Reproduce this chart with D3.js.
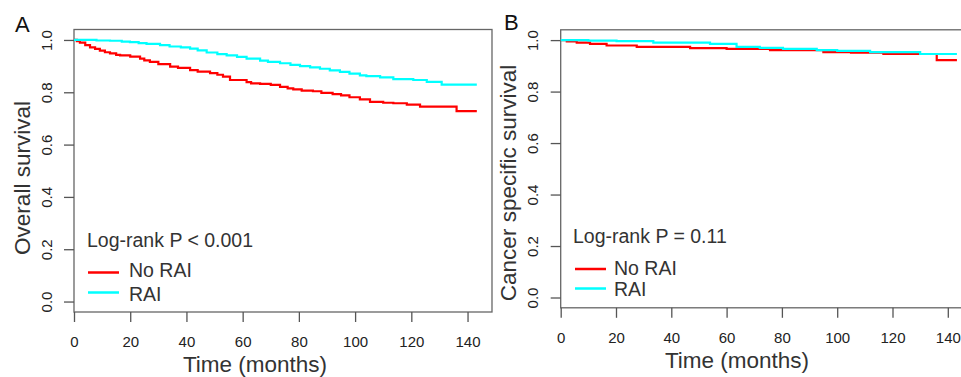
<!DOCTYPE html>
<html>
<head>
<meta charset="utf-8">
<script src="https://cdn.jsdelivr.net/npm/d3@7"></script>
<style>
  body { margin: 0; background: #fff; }
  svg { display: block; font-family: "Liberation Sans", Arial, sans-serif; }
</style>
</head>
<body>
<svg width="961" height="377"></svg>
<script>
// Kaplan-Meier step points (time in months, survival)
const osNoRaiTime = [0, 1, 2.1, 4, 5.7, 7.5, 9.2, 11, 12.8, 15, 16.4, 20, 23.5, 25, 27, 30, 34.2, 37, 41.3, 44, 48.4, 51, 53, 55.5, 61.4, 63, 66.2, 70, 73.3, 76, 78, 81, 85, 88, 92, 95, 98, 101.7, 105.3, 110, 113.6, 118.4, 123.1, 136.1, 143.3];
const osNoRaiSurv = [1.0, 0.995, 0.99, 0.98, 0.972, 0.966, 0.959, 0.953, 0.949, 0.943, 0.941, 0.936, 0.929, 0.922, 0.916, 0.908, 0.898, 0.893, 0.885, 0.879, 0.873, 0.867, 0.86, 0.847, 0.839, 0.834, 0.832, 0.828, 0.821, 0.815, 0.811, 0.806, 0.804, 0.798, 0.793, 0.788, 0.781, 0.773, 0.763, 0.76, 0.758, 0.753, 0.745, 0.728, 0.728];

const osRaiTime = [0, 8, 12.8, 17, 19.9, 23, 25.8, 30.6, 34, 38, 41.3, 44, 47.2, 51, 54.3, 58, 61.4, 66.2, 69, 73.3, 77, 80.4, 84, 87.5, 91, 94.6, 98, 101.7, 104, 108.9, 113.6, 120.7, 125.5, 130.8, 143.3];
const osRaiSurv = [1.0, 0.998, 0.997, 0.994, 0.992, 0.988, 0.985, 0.98, 0.975, 0.972, 0.967, 0.96, 0.952, 0.946, 0.941, 0.935, 0.929, 0.921, 0.916, 0.911, 0.905, 0.9, 0.895, 0.89, 0.884, 0.878, 0.871, 0.865, 0.862, 0.857, 0.85, 0.847, 0.84, 0.829, 0.829];

const cssNoRaiTime = [0, 2.2, 5.8, 10.6, 16.6, 27.5, 46.8, 60, 75.7, 95, 105, 116.7, 136, 143.3];
const cssNoRaiSurv = [1.0, 0.995, 0.99, 0.985, 0.979, 0.974, 0.969, 0.966, 0.961, 0.953, 0.951, 0.946, 0.922, 0.922];

const cssRaiTime = [0, 10, 20.2, 33.5, 54, 63.6, 72, 80.4, 92.6, 100, 111.9, 130, 143.3];
const cssRaiSurv = [1.0, 0.998, 0.996, 0.99, 0.985, 0.974, 0.97, 0.966, 0.961, 0.958, 0.953, 0.946, 0.946];

const xTicks = [0, 20, 40, 60, 80, 100, 120, 140];
const yTicks = [0, 0.2, 0.4, 0.6, 0.8, 1.0];
const groupNames = ["No RAI", "RAI"];
const groupColors = ["#ff0000", "#00ffff"];

const svg = d3.select("svg");

function juntaPontos(tempos, sobrevida) {
  return tempos.map((t, i) => ({ t: t, s: sobrevida[i] }));
}

function desenhaPainel(p) {
  const g = svg.append("g");

  const x = d3.scaleLinear().domain([0, 148.7]).range([p.left, p.left + 148.7 * p.pxMes]);
  const y = d3.scaleLinear().domain([-0.04, 1.04]).range([p.bottom, p.top]);

  // caixa do grafico
  g.append("rect")
    .attr("x", p.left)
    .attr("y", p.top)
    .attr("width", x(148.7) - p.left)
    .attr("height", p.bottom - p.top)
    .attr("fill", "none")
    .attr("stroke", "#666")
    .attr("stroke-width", 1.3);

  // eixo x
  const ax = g.append("g")
    .attr("transform", `translate(0,${p.bottom})`)
    .call(d3.axisBottom(x).tickValues(xTicks).tickSize(10).tickPadding(0));
  ax.select(".domain").remove();
  ax.selectAll("line").attr("stroke", "#555").attr("stroke-width", 1.3);
  ax.selectAll("text")
    .attr("y", p.xTickBase - p.bottom)
    .attr("dy", null)
    .attr("font-size", 15)
    .attr("fill", "#222")
    .style("font-family", "Liberation Sans, Arial, sans-serif");

  // eixo y
  const ay = g.append("g")
    .attr("transform", `translate(${p.left},0)`)
    .call(d3.axisLeft(y).tickValues(yTicks).tickSize(10).tickFormat(d3.format(".1f")));
  ay.select(".domain").remove();
  ay.selectAll("line").attr("stroke", "#555").attr("stroke-width", 1.3);
  ay.selectAll("text")
    .attr("transform", "rotate(-90)")
    .attr("x", 0)
    .attr("y", -(p.left - p.yTickBase))
    .attr("dy", null)
    .attr("text-anchor", "middle")
    .attr("font-size", 15)
    .attr("fill", "#222")
    .style("font-family", "Liberation Sans, Arial, sans-serif");

  // curvas
  const linha = d3.line()
    .x(d => x(d.t))
    .y(d => y(d.s))
    .curve(d3.curveStepAfter);

  p.series.forEach((serie, i) => {
    g.append("path")
      .datum(juntaPontos(serie[0], serie[1]))
      .attr("d", linha)
      .attr("fill", "none")
      .attr("stroke", groupColors[i])
      .attr("stroke-width", 2.2);
  });

  // titulos
  g.append("text")
    .attr("x", p.xTitleX)
    .attr("y", p.xTitleBase)
    .attr("text-anchor", "middle")
    .attr("font-size", 22.5)
    .attr("fill", "#333")
    .text("Time (months)");

  g.append("text")
    .attr("transform", `translate(${p.yTitleBase},${p.yTitleY}) rotate(-90)`)
    .attr("text-anchor", "middle")
    .attr("font-size", 22.5)
    .attr("fill", "#333")
    .text(p.yTitle);

  g.append("text")
    .attr("x", p.letterX)
    .attr("y", p.letterBase)
    .attr("font-size", 22)
    .attr("fill", "#111")
    .text(p.letter);

  // legenda
  g.append("text")
    .attr("x", p.legX)
    .attr("y", p.legBase)
    .attr("font-size", 19.5)
    .attr("fill", "#333")
    .text(p.pText);

  groupNames.forEach((nome, i) => {
    g.append("line")
      .attr("x1", p.legLineX)
      .attr("x2", p.legLineX + 31)
      .attr("y1", p.legLineY[i])
      .attr("y2", p.legLineY[i])
      .attr("stroke", groupColors[i])
      .attr("stroke-width", 2.5);
    g.append("text")
      .attr("x", p.legTextX)
      .attr("y", p.legTextBase[i])
      .attr("font-size", 19.5)
      .attr("fill", "#333")
      .text(nome);
  });
}

desenhaPainel({
  letter: "A", letterX: 15, letterBase: 32,
  left: 74, top: 29.5, bottom: 312, pxMes: 2.811,
  xTickBase: 347, xTitleX: 255, xTitleBase: 372,
  yTickBase: 52, yTitle: "Overall survival", yTitleBase: 30, yTitleY: 178,
  pText: "Log-rank P < 0.001", legX: 87, legBase: 247,
  legLineX: 88, legLineY: [272.5, 292.5], legTextX: 129, legTextBase: [277, 301],
  series: [[osNoRaiTime, osNoRaiSurv], [osRaiTime, osRaiSurv]]
});

desenhaPainel({
  letter: "B", letterX: 504, letterBase: 30,
  left: 560.7, top: 29.8, bottom: 307.8, pxMes: 2.765,
  xTickBase: 343, xTitleX: 737, xTitleBase: 368,
  yTickBase: 538, yTitle: "Cancer specific survival", yTitleBase: 516, yTitleY: 183,
  pText: "Log-rank P = 0.11", legX: 573, legBase: 243,
  legLineX: 575, legLineY: [269, 288.5], legTextX: 614, legTextBase: [275, 296],
  series: [[cssNoRaiTime, cssNoRaiSurv], [cssRaiTime, cssRaiSurv]]
});
</script>
</body>
</html>
